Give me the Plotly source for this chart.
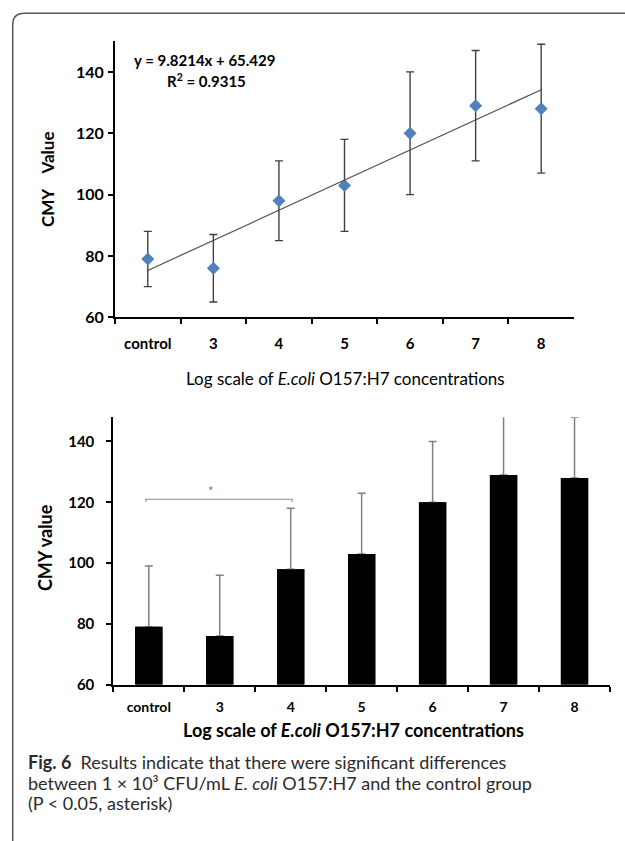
import plotly.graph_objects as go

# ---------------- data ----------------
categories = ["control", "3", "4", "5", "6", "7", "8"]

# top chart (scatter with asymmetric error bars)
top_means = [79, 76, 98, 103, 120, 129, 128]
top_upper = [88, 87, 111, 118, 140, 147, 149]
top_lower = [70, 65, 85, 88, 100, 111, 107]
slope, intercept, r2 = 9.8214, 65.429, 0.9315

# bottom chart (bars with upper error bars)
bar_means = [79, 76, 98, 103, 120, 129, 128]
bar_upper = [99, 96, 118, 123, 140, 150, 148]
sig_pair = ("control", "4")
sig_level = 121

y_ticks = [60, 80, 100, 120, 140]

# ---------------- helpers ----------------
W, H = 625, 841
def px(x):
    return x / W
def py(y):
    return 1 - y / H

CHART_FONT = "Lato, 'Open Sans', sans-serif"
fig = go.Figure()

# ---------------- top chart ----------------
err_plus = [u - m for u, m in zip(top_upper, top_means)]
err_minus = [m - l for m, l in zip(top_means, top_lower)]
fig.add_trace(go.Scatter(
    x=categories, y=top_means, mode="markers",
    marker=dict(symbol="diamond", size=10, color="#4F81BD"),
    error_y=dict(type="data", symmetric=False, array=err_plus, arrayminus=err_minus,
                 color="#404040", thickness=1.4, width=4),
    xaxis="x", yaxis="y", showlegend=False, cliponaxis=False,
))
idx = [1, len(categories)]
fig.add_trace(go.Scatter(
    x=[categories[0], categories[-1]],
    y=[slope * i + intercept for i in idx],
    mode="lines", line=dict(color="#505050", width=1.2),
    xaxis="x", yaxis="y", showlegend=False, hoverinfo="skip",
))

# ---------------- bottom chart ----------------
# bars carrying the upper error bars, then plain bars on top hiding the lower caps
fig.add_trace(go.Bar(
    x=categories, y=bar_means,
    marker=dict(color="#000000", line=dict(width=0)),
    error_y=dict(type="data", symmetric=False,
                 array=[u - m for u, m in zip(bar_upper, bar_means)],
                 arrayminus=[0] * len(bar_means),
                 color="#808080", thickness=1.5, width=4),
    xaxis="x2", yaxis="y2", showlegend=False,
))
fig.add_trace(go.Bar(
    x=categories, y=bar_means,
    marker=dict(color="#000000", line=dict(width=0)),
    xaxis="x2", yaxis="y2", showlegend=False, hoverinfo="skip",
))

axis_common = dict(showline=True, linecolor="#000000", linewidth=2, ticks="outside",
                   tickcolor="#000000", tickwidth=2, ticklen=5, showgrid=False,
                   zeroline=False, fixedrange=True)

fig.update_layout(
    width=W, height=H,
    margin=dict(l=0, r=0, t=0, b=0),
    paper_bgcolor="white", plot_bgcolor="white",
    bargap=0.615, barmode="overlay",
    font=dict(family=CHART_FONT, color="#000000"),
    xaxis=dict(domain=[px(115), px(574)], anchor="y", type="category",
               categoryorder="array", categoryarray=categories,
               tickson="boundaries", range=[-0.5, 6.5],
               tickfont=dict(size=15, family=CHART_FONT, weight="bold"),
               ticklabelstandoff=12, **axis_common),
    yaxis=dict(domain=[py(320.7), py(41.7)], anchor="x", range=[60, 150],
               tickvals=y_ticks, tickfont=dict(size=16, family=CHART_FONT, weight="bold"),
               ticklabelstandoff=1, **axis_common),
    xaxis2=dict(domain=[px(113.3), px(610)], anchor="y2", type="category",
                categoryorder="array", categoryarray=categories,
                tickson="boundaries", range=[-0.5, 6.5],
                tickfont=dict(size=14, family=CHART_FONT, weight="bold"),
                ticklabelstandoff=9, **axis_common),
    yaxis2=dict(domain=[py(692), py(421.7)], anchor="x2", range=[60, 148],
                tickvals=y_ticks, tickfont=dict(size=15, family=CHART_FONT, weight="bold"),
                ticklabelstandoff=9, **axis_common),
)

# significance bracket
i0, i1 = categories.index(sig_pair[0]), categories.index(sig_pair[1])
fig.add_shape(type="path", xref="x2", yref="y2",
              path=f"M {i0 - 0.04},{sig_level - 0.8} L {i0 - 0.04},{sig_level} "
                   f"L {i1 + 0.02},{sig_level} L {i1 + 0.02},{sig_level - 0.8}",
              line=dict(color="#8c8c8c", width=1.2))
fig.add_annotation(xref="x2", yref="y2", x=(i0 + i1) / 2 - 0.13, y=sig_level,
                   text="*", showarrow=False, xanchor="center", yanchor="bottom", yshift=-2,
                   font=dict(size=13, color="#7a7a7a", family=CHART_FONT))

def note(x, y, text, size, **kw):
    opts = dict(xref="paper", yref="paper", x=px(x), y=py(y), text=text, showarrow=False,
                xanchor="center", yanchor="middle",
                font=dict(size=size, family=CHART_FONT, color="#000"))
    opts.update(kw)
    fig.add_annotation(**opts)

# regression equation
note(204, 61, f"<b>y = {slope}x + {intercept}</b>", 15)
note(206, 81, f"<b>R<sup>2</sup> = {r2}</b>", 15)

# axis titles
note(47, 181, "<b>CMY\u00a0\u00a0\u00a0\u00a0Value</b>", 17, textangle=-90)
note(345, 383, "Log scale of <i>E.coli</i> O157:H7 concentrations", 17)
note(45, 554, "<b>CMY value</b>", 18, textangle=-90)
note(353, 738, "<b>Log scale of <i>E.coli</i> O157:H7 concentrations</b>", 18)

# caption (one annotation per line to control the line spacing)
caption_lines = [
    "<b>Fig. 6</b>\u00a0\u00a0Results indicate that there were significant differences",
    "between 1 × 10³ CFU/mL <i>E. coli</i> O157:H7 and the control group",
    "(P < 0.05, asterisk)",
]
for k, line in enumerate(caption_lines):
    note(27, 770 + 21 * k, line, 18, xanchor="left", borderpad=0,
         font=dict(size=18, family=CHART_FONT, color="#2b2b2b"))

# frame
fig.add_shape(type="path", xref="paper", yref="paper",
              path=f"M {px(12.7)},{py(850)} L {px(12.7)},{py(25)} "
                   f"Q {px(12.7)},{py(13.3)} {px(24.5)},{py(13.3)} L {px(640)},{py(13.3)}",
              line=dict(color="#555555", width=1.5))

fig.write_html("out.html", config={"displayModeBar": False},
               post_script="document.body.style.margin='0';")
